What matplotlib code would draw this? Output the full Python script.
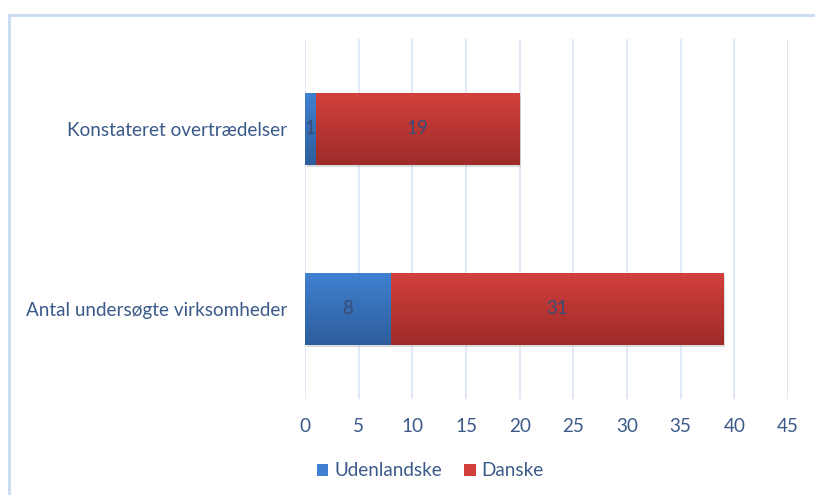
import numpy as np
import matplotlib.pyplot as plt
from matplotlib.patches import Rectangle
from matplotlib.colors import LinearSegmentedColormap

plt.rcParams['font.family'] = ['Lato', 'DejaVu Sans']

categories = ['Antal undersøgte virksomheder', 'Konstateret overtrædelser']
udenlandske = [8, 1]
danske = [31, 19]
series_names = ['Udenlandske', 'Danske']
xticks = [0, 5, 10, 15, 20, 25, 30, 35, 40, 45]

text_col = '#3b5a8a'
blue_top, blue_bot = '#4080d0', '#2d5e9c'
red_top, red_bot = '#d2403c', '#9e2b29'

fig = plt.figure(figsize=(8.15, 4.95), dpi=100)
ax = fig.add_axes([305 / 815, 1 - 399 / 495, 483 / 815, 360 / 495])

# rahmen rundt om diagrammet
fig.patches.append(Rectangle((9 / 815, -0.1), 1.2, 1 - 15 / 495 + 0.1,
                             transform=fig.transFigure, fill=False,
                             edgecolor='#c9daf0', linewidth=2))

y = np.arange(len(categories))
h = 0.4
b1 = ax.barh(y, udenlandske, height=h, color=blue_top, label=series_names[0], zorder=3)
b2 = ax.barh(y, danske, left=udenlandske, height=h, color=red_top, label=series_names[1], zorder=3)


def gradient(bars, c_top, c_bot):
    cmap = LinearSegmentedColormap.from_list('g', [c_bot, c_top])
    grad = np.linspace(0, 1, 100).reshape(-1, 1)
    for p in bars:
        x0, y0 = p.get_x(), p.get_y()
        w, hh = p.get_width(), p.get_height()
        # lille skygge
        ax.add_patch(Rectangle((x0 + 0.15, y0 - 0.012), w, hh, color='#999999',
                               alpha=0.35, zorder=2, linewidth=0))
        im = ax.imshow(grad, cmap=cmap, aspect='auto', origin='lower',
                       extent=[x0, x0 + w, y0, y0 + hh], zorder=3.5)
        im.set_clip_path(p)


gradient(b1, blue_top, blue_bot)
gradient(b2, red_top, red_bot)

for i in range(len(categories)):
    ax.text(udenlandske[i] / 2, y[i], str(udenlandske[i]), ha='center', va='center',
            fontsize=13.5, color='#3a4d78', zorder=5)
    ax.text(udenlandske[i] + danske[i] / 2, y[i], str(danske[i]), ha='center', va='center',
            fontsize=13.5, color='#3a4d78', zorder=5)

ax.set_xlim(0, 45)
ax.set_ylim(-0.5, 1.5)
ax.set_xticks(xticks)
ax.set_yticks(y)
ax.set_yticklabels(categories)
ax.grid(axis='x', color='#dae5f4', linewidth=1.2, zorder=0)
ax.set_axisbelow(True)
for s in ax.spines.values():
    s.set_visible(False)
ax.tick_params(axis='both', length=0, labelsize=13.6, labelcolor=text_col)
ax.tick_params(axis='x', pad=14)
ax.tick_params(axis='y', pad=13)

leg = fig.legend(handles=[b1, b2], labels=series_names, loc='center left',
                 bbox_to_anchor=(300 / 815, 1 - 471 / 495), ncol=2, frameon=False,
                 fontsize=13.6, handlelength=0.6, handleheight=0.6,
                 handletextpad=0.3, columnspacing=1.2)
for t in leg.get_texts():
    t.set_color(text_col)

fig.savefig('out.png', dpi=100)
